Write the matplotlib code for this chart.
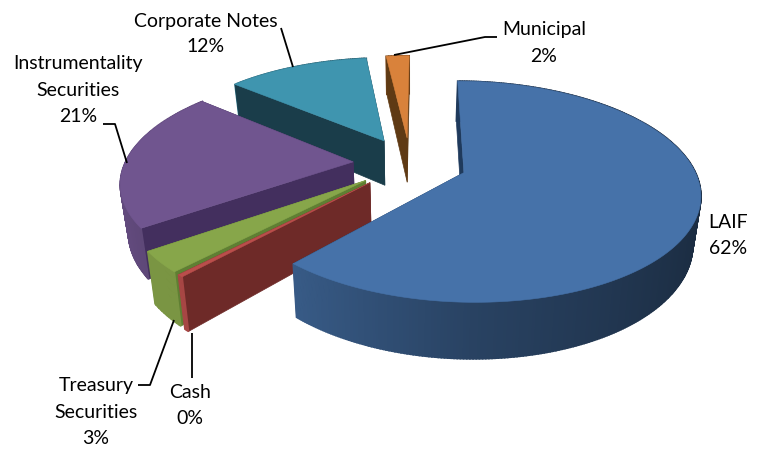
import numpy as np
import matplotlib
matplotlib.use("Agg")
import matplotlib.pyplot as plt
from matplotlib.patches import Polygon
from matplotlib.colors import to_rgb

# data
categories = ["LAIF", "Cash", "Treasury Securities", "Instrumentality Securities", "Corporate Notes", "Municipal"]
values = [61.6, 0.35, 3.1, 21.0, 12.0, 1.95]
top_colors = ["#4672A9", "#BA4E4B", "#87A64A", "#70558F", "#3F95AF", "#D9823B"]
radial_colors = ["#1F3A5C", "#6E2A28", "#5F7F33", "#432F5E", "#1A3D4A", "#5F3A14"]

# label text, centre x, line-centre ys
labels = [
    (["LAIF", "62%"], 728, [222, 248]),
    (["Cash", "0%"], 190, [392, 418]),
    (["Treasury", "Securities", "3%"], 96, [386, 412, 438]),
    (["Instrumentality", "Securities", "21%"], 78, [64, 90, 117]),
    (["Corporate Notes", "12%"], 206, [21, 46]),
    (["Municipal", "2%"], 544, [30, 57]),
]
leaders = [
    ([281, 293], [28, 67]),
    ([394, 485, 497], [55, 37, 37]),
    ([103, 115, 127], [124, 124, 163]),
    ([138, 150, 174], [385, 385, 320]),
    ([192, 192], [333, 378]),
]

# projection
CX, CY, A, B, K = 410.0, 163.0, 228.0, 104.0, 0.17
DEPTH, SHRINK, EXPLODE, START = 46.0, 0.972, 0.25, 0.5


def project(u, v, lower=False):
    w = 1 + K * v
    x = CX + A * u / w
    y = CY - B * v / w
    if lower:
        x = CX + (x - CX) * SHRINK
        y = y + DEPTH / w
    return x, y


def shade(color, f):
    return tuple(min(1, c * f) for c in to_rgb(color))


fig = plt.figure(figsize=(7.6, 4.54), dpi=100, facecolor="white")
ax = fig.add_axes([0, 0, 1, 1])
ax.set_xlim(0, 760)
ax.set_ylim(454, 0)
ax.axis("off")

fractions = np.array(values) / sum(values)
edges = np.radians(START + 360 * np.concatenate([[0], np.cumsum(fractions)]))
zorder = 1
# draw back slices first, LAIF in front
for i in [5, 4, 3, 2, 1, 0]:
    a0, a1 = edges[i], edges[i + 1]
    mid = (a0 + a1) / 2
    ou, ov = EXPLODE * np.sin(mid), EXPLODE * np.cos(mid)
    t = np.linspace(a0, a1, max(3, int(np.degrees(a1 - a0) * 1.5)))
    au, av = ou + np.sin(t), ov + np.cos(t)

    faces = []
    for j in [0, -1]:
        us, vs = [ou, au[j]], [ov, av[j]]
        top = [project(p, q) for p, q in zip(us, vs)]
        low = [project(p, q, True) for p, q in zip(us, vs)]
        faces.append((np.mean(vs), top + low[::-1], radial_colors[i], 0.5))
    for j in range(len(t) - 1):
        nx = np.sin((t[j] + t[j + 1]) / 2)
        f = np.interp(nx, [-1, 0, 1], [0.9, 0.58, 0.38])
        if i in (1, 2):
            f = 0.9
        us, vs = au[j:j + 2], av[j:j + 2]
        top = [project(p, q) for p, q in zip(us, vs)]
        low = [project(p, q, True) for p, q in zip(us, vs)]
        faces.append((np.mean(vs), top + low[::-1], shade(top_colors[i], f), 1.2))
    for _, pts, col, lw in sorted(faces, key=lambda s: -s[0]):
        ax.add_patch(Polygon(pts, closed=True, fc=col, ec=col, lw=lw, zorder=zorder))
        zorder += 1
    top = [project(ou, ov)] + [project(p, q) for p, q in zip(au, av)]
    ax.add_patch(Polygon(top, closed=True, fc=top_colors[i], ec=top_colors[i], lw=0.4, zorder=zorder))
    zorder += 1

for xs, ys in leaders:
    ax.plot(xs, ys, color="black", lw=1.3, solid_capstyle="butt", zorder=zorder)

for lines, x, ys in labels:
    for s, y in zip(lines, ys):
        ax.text(x, y, s, ha="center", va="center", family="Lato", fontsize=14, color="black", zorder=zorder + 1)

fig.savefig("out.png", dpi=100)
